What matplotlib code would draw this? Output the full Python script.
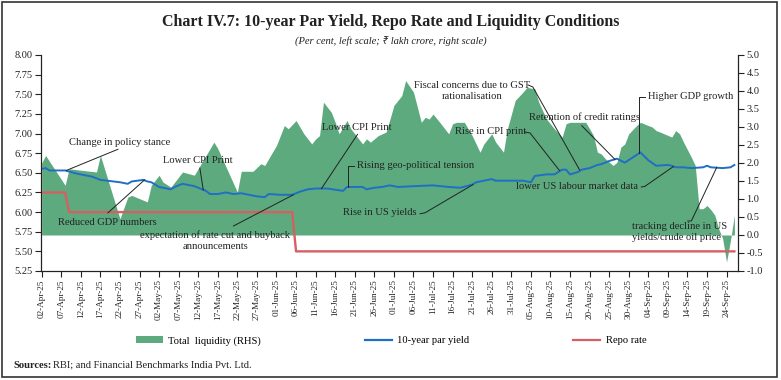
import matplotlib
matplotlib.use("Agg")
import matplotlib.pyplot as plt
import matplotlib.dates as mdates
import pandas as pd
from matplotlib.patches import Rectangle, Patch
from matplotlib.lines import Line2D
from matplotlib.ticker import FormatStrFormatter, MultipleLocator

plt.rcParams['font.family'] = ['Liberation Serif', 'Noto Sans', 'DejaVu Sans']
plt.rcParams['axes.unicode_minus'] = False

# total liquidity, RHS (lakh crore)
liq_dates = [
    "2025-04-02", "2025-04-03", "2025-04-08", "2025-04-09", "2025-04-12", "2025-04-16",
    "2025-04-17", "2025-04-22", "2025-04-24", "2025-04-25", "2025-04-29", "2025-04-30",
    "2025-05-02", "2025-05-03", "2025-05-05", "2025-05-06", "2025-05-08", "2025-05-11",
    "2025-05-14", "2025-05-16", "2025-05-17", "2025-05-22", "2025-05-23", "2025-05-26",
    "2025-05-28", "2025-05-29", "2025-05-30", "2025-06-01", "2025-06-03", "2025-06-04",
    "2025-06-06", "2025-06-08", "2025-06-10", "2025-06-11", "2025-06-12", "2025-06-13",
    "2025-06-15", "2025-06-16", "2025-06-17", "2025-06-19", "2025-06-20", "2025-06-22",
    "2025-06-23", "2025-06-24", "2025-06-25", "2025-06-27", "2025-06-29", "2025-06-30",
    "2025-07-01", "2025-07-03", "2025-07-04", "2025-07-06", "2025-07-08", "2025-07-09",
    "2025-07-10", "2025-07-11", "2025-07-13", "2025-07-15", "2025-07-16", "2025-07-17",
    "2025-07-19", "2025-07-21", "2025-07-23", "2025-07-24", "2025-07-26", "2025-07-27",
    "2025-07-29", "2025-07-30", "2025-08-01", "2025-08-03", "2025-08-04", "2025-08-06",
    "2025-08-07", "2025-08-09", "2025-08-11", "2025-08-13", "2025-08-14", "2025-08-15",
    "2025-08-19", "2025-08-20", "2025-08-21", "2025-08-22", "2025-08-23", "2025-08-24",
    "2025-08-26", "2025-08-27", "2025-08-28", "2025-08-29", "2025-08-30", "2025-09-01",
    "2025-09-02", "2025-09-04", "2025-09-05", "2025-09-06", "2025-09-07", "2025-09-10",
    "2025-09-11", "2025-09-12", "2025-09-13", "2025-09-15", "2025-09-16", "2025-09-17",
    "2025-09-18", "2025-09-19", "2025-09-20", "2025-09-21", "2025-09-22", "2025-09-23",
    "2025-09-24", "2025-09-25", "2025-09-26",
]
liq_vals = [
    2.00, 2.21, 1.38, 1.84, 1.80, 1.75,
    2.21, 0.45, 1.05, 1.10, 0.92, 1.38,
    1.66, 1.47, 1.33, 1.47, 1.75, 1.66,
    2.21, 2.58, 2.40, 1.19, 1.77, 1.77,
    1.98, 1.93, 2.12, 2.49, 3.04, 2.95,
    3.18, 2.81, 2.53, 2.67, 2.76, 3.69,
    3.41, 3.13, 2.81, 3.18, 2.95, 2.67,
    2.53, 2.67, 2.58, 2.76, 2.86, 3.22,
    3.60, 3.87, 4.29, 3.97, 3.13, 3.27,
    3.22, 3.36, 3.09, 2.81, 3.09, 3.13,
    3.13, 2.76, 2.30, 2.53, 2.81, 2.58,
    2.30, 2.95, 3.74, 3.97, 4.10, 4.06,
    3.69, 3.22, 2.95, 2.72, 3.09, 3.13,
    3.13, 2.95, 2.76, 2.30, 2.25, 2.12,
    1.93, 2.02, 2.44, 2.53, 2.81, 3.04,
    3.13, 3.04, 3.00, 2.90, 2.86, 2.72,
    2.90, 2.81, 2.58, 2.16, 1.93, 0.73,
    0.73, 0.82, 0.70, 0.55, 0.17, -0.10,
    -0.75, -0.15, 0.55,
]

# 10-year par yield, LHS (per cent)
yield_dates = [
    "2025-04-02", "2025-04-03", "2025-04-04", "2025-04-08", "2025-04-11", "2025-04-15",
    "2025-04-17", "2025-04-22", "2025-04-24", "2025-04-25", "2025-04-28", "2025-04-29",
    "2025-04-30", "2025-05-02", "2025-05-05", "2025-05-06", "2025-05-08", "2025-05-11",
    "2025-05-14", "2025-05-15", "2025-05-17", "2025-05-19", "2025-05-21", "2025-05-23",
    "2025-05-25", "2025-05-27", "2025-05-29", "2025-05-30", "2025-06-02", "2025-06-05",
    "2025-06-07", "2025-06-09", "2025-06-11", "2025-06-14", "2025-06-18", "2025-06-19",
    "2025-06-21", "2025-06-23", "2025-06-24", "2025-06-26", "2025-06-28", "2025-06-30",
    "2025-07-02", "2025-07-06", "2025-07-11", "2025-07-15", "2025-07-18", "2025-07-21",
    "2025-07-22", "2025-07-24", "2025-07-26", "2025-07-27", "2025-07-31", "2025-08-03",
    "2025-08-05", "2025-08-06", "2025-08-09", "2025-08-11", "2025-08-12", "2025-08-13",
    "2025-08-14", "2025-08-15", "2025-08-17", "2025-08-18", "2025-08-20", "2025-08-22",
    "2025-08-23", "2025-08-25", "2025-08-27", "2025-08-29", "2025-09-02", "2025-09-04",
    "2025-09-06", "2025-09-09", "2025-09-10", "2025-09-11", "2025-09-13", "2025-09-15",
    "2025-09-18", "2025-09-19", "2025-09-20", "2025-09-23", "2025-09-25", "2025-09-26",
]
yield_vals = [
    6.55, 6.56, 6.53, 6.53, 6.49, 6.45,
    6.41, 6.38, 6.36, 6.39, 6.41, 6.39,
    6.38, 6.32, 6.29, 6.32, 6.36, 6.33,
    6.27, 6.23, 6.23, 6.25, 6.23, 6.24,
    6.22, 6.20, 6.19, 6.23, 6.22, 6.22,
    6.26, 6.29, 6.30, 6.30, 6.27, 6.32,
    6.32, 6.32, 6.29, 6.31, 6.32, 6.34,
    6.32, 6.33, 6.34, 6.32, 6.31, 6.35,
    6.38, 6.40, 6.42, 6.40, 6.40, 6.40,
    6.38, 6.46, 6.48, 6.48, 6.51, 6.54,
    6.54, 6.48, 6.51, 6.54, 6.56, 6.60,
    6.61, 6.65, 6.68, 6.63, 6.76, 6.66,
    6.59, 6.60, 6.59, 6.57, 6.57, 6.56,
    6.57, 6.59, 6.57, 6.56, 6.57, 6.60,
]

# policy repo rate, LHS (per cent)
repo_dates = ["2025-04-02", "2025-04-08", "2025-04-09", "2025-06-05", "2025-06-06", "2025-09-26"]
repo_vals = [6.25, 6.25, 6.00, 6.00, 5.50, 5.50]

tick_dates = pd.date_range("2025-04-02", "2025-09-24", freq="5D")

# (text, text position, leader path ending on the series, alignment)
notes = [
    ("Change in policy stance", ("2025-04-22", 6.88), [("2025-04-21 12:00", 6.80), ("2025-04-08 07:00", 6.53)], "center"),
    ("Reduced GDP numbers", ("2025-04-18 16:00", 5.865), [("2025-04-18 22:00", 5.99), ("2025-04-28 07:00", 6.41)], "center"),
    ("Lower CPI Print", ("2025-05-11 20:00", 6.66), [("2025-05-12 10:00", 6.56), ("2025-05-13 07:00", 6.28)], "center"),
    ("expectation of rate cut and buyback\nannouncements", ("2025-05-16 08:00", 5.632),
     [("2025-05-21", 5.823), ("2025-06-05 07:00", 6.22)], "center"),
    ("Lower CPI Print", ("2025-06-21 12:00", 7.08), [("2025-06-21 17:00", 6.99), ("2025-06-12 12:00", 6.30)], "center"),
    ("Rising geo-political tension", ("2025-06-21 12:00", 6.587),
     [("2025-06-20 19:00", 6.593), ("2025-06-19 07:00", 6.593), ("2025-06-19 07:00", 6.32)], "left"),
    ("Rise in US yields", ("2025-06-27 07:00", 5.99),
     [("2025-07-07 17:00", 5.98), ("2025-07-08 22:00", 5.99), ("2025-07-21 05:00", 6.35)], "center"),
    ("Fiscal concerns due to GST\nrationalisation", ("2025-07-20 22:00", 7.546),
     [("2025-08-04 07:00", 7.618), ("2025-08-05 12:00", 7.593), ("2025-08-17 10:00", 6.54)], "center"),
    ("Rise in CPI print", ("2025-07-25 17:00", 7.024),
     [("2025-08-03 12:00", 7.02), ("2025-08-04 19:00", 7.007), ("2025-08-12 07:00", 6.53)], "center"),
    ("Retention of credit ratings", ("2025-08-18 19:00", 7.215),
     [("2025-08-18", 7.10), ("2025-08-26 12:00", 6.67)], "center"),
    ("Higher GDP growth", ("2025-09-04", 7.47),
     [("2025-09-03 02:00", 7.47), ("2025-09-01 14:00", 7.47), ("2025-09-01 14:00", 6.75)], "left"),
    ("lower US labour market data", ("2025-08-16 19:00", 6.32),
     [("2025-09-02 05:00", 6.32), ("2025-09-03 02:00", 6.326), ("2025-09-10 10:00", 6.58)], "center"),
    ("tracking decline in US\nyields/crude oil price", ("2025-08-30 22:00", 5.747),
     [("2025-09-14 02:00", 5.887), ("2025-09-15", 5.887), ("2025-09-21 12:00", 6.57)], "left"),
]

GREEN = "#5DAA7E"
BLUE = "#1F6FC5"
RED = "#D65F63"
INK = "#222222"

W, H = 781, 380
fig = plt.figure(figsize=(W / 100, H / 100), dpi=100)

left, right, top, bottom = 40.7, 738.3, 55, 271
ax = fig.add_axes([left / W, 1 - bottom / H, (right - left) / W, (bottom - top) / H])
ax2 = ax.twinx()
ax.set_zorder(ax2.get_zorder() + 1)
ax.patch.set_visible(False)

liq_x = pd.to_datetime(liq_dates)
ax2.fill_between(liq_x, 0, liq_vals, color=GREEN, linewidth=0)
ax.plot(pd.to_datetime(yield_dates), yield_vals, color=BLUE, lw=1.4)
ax.plot(pd.to_datetime(repo_dates), repo_vals, color=RED, lw=1.7)

x0 = pd.Timestamp("2025-04-02") - pd.Timedelta(hours=6)
x1 = pd.Timestamp("2025-09-27")
ax.set_xlim(x0, x1)
ax.set_ylim(5.25, 8.00)
ax2.set_ylim(-1.0, 5.0)

ax.yaxis.set_major_locator(MultipleLocator(0.25))
ax.yaxis.set_major_formatter(FormatStrFormatter("%.2f"))
ax2.yaxis.set_major_locator(MultipleLocator(0.5))
ax2.yaxis.set_major_formatter(FormatStrFormatter("%.1f"))

ax.set_xticks(tick_dates)
ax.xaxis.set_major_formatter(mdates.DateFormatter("%d-%b-%y"))
ax.tick_params(axis="x", rotation=90, labelsize=6.6, length=4, width=0.8, pad=2, colors=INK)
ax.tick_params(axis="y", labelsize=7.5, length=4, width=0.8, pad=2, colors=INK)
ax2.tick_params(axis="y", labelsize=7.5, length=4, width=0.8, pad=2, colors=INK)

for a in (ax, ax2):
    a.spines["top"].set_visible(False)
    for s in ("left", "right", "bottom"):
        a.spines[s].set_linewidth(0.8)
        a.spines[s].set_color(INK)

for text, pos, path, ha in notes:
    tx = pd.Timestamp(pos[0])
    ax.text(tx, pos[1], text, fontsize=7.6, ha=ha, va="center", color=INK,
            multialignment=ha, linespacing=1.25, zorder=5)
    px = [pd.Timestamp(p[0]) for p in path]
    py = [p[1] for p in path]
    ax.plot(px, py, color=INK, lw=0.7, zorder=4)

fig.text(0.5, 1 - 22 / H, "Chart IV.7: 10-year Par Yield, Repo Rate and Liquidity Conditions",
         ha="center", va="center", fontsize=11.5, fontweight="bold", color=INK)
fig.text(0.5, 1 - 41.5 / H, "(Per cent, left scale; \u20b9 lakh crore, right scale)",
         ha="center", va="center", fontsize=7.6, style="italic", color=INK)

handles = [Patch(color=GREEN, linewidth=0),
           Line2D([], [], color=BLUE, lw=1.6),
           Line2D([], [], color=RED, lw=1.6)]
labels = ["Total  liquidity (RHS)", "10-year par yield", "Repo rate"]
fig.legend(handles, labels, loc="center", bbox_to_anchor=(391 / W, 1 - 340.7 / H), ncol=3,
           frameon=False, fontsize=7.6, handlelength=2.6, handleheight=0.6,
           handletextpad=0.5, columnspacing=9.8)

fig.text(13 / W, 1 - 365 / H, "Sources:", ha="left", va="center", fontsize=7.6,
         fontweight="bold", color=INK)
fig.text(53 / W, 1 - 365 / H, "RBI; and Financial Benchmarks India Pvt. Ltd.", ha="left",
         va="center", fontsize=7.6, color=INK)

fig.patches.append(Rectangle((1.5 / W, 3 / H), 775.5 / W, 375.5 / H, transform=fig.transFigure,
                             fill=False, edgecolor="#333333", linewidth=1.2))

fig.savefig("out.png", dpi=100)
